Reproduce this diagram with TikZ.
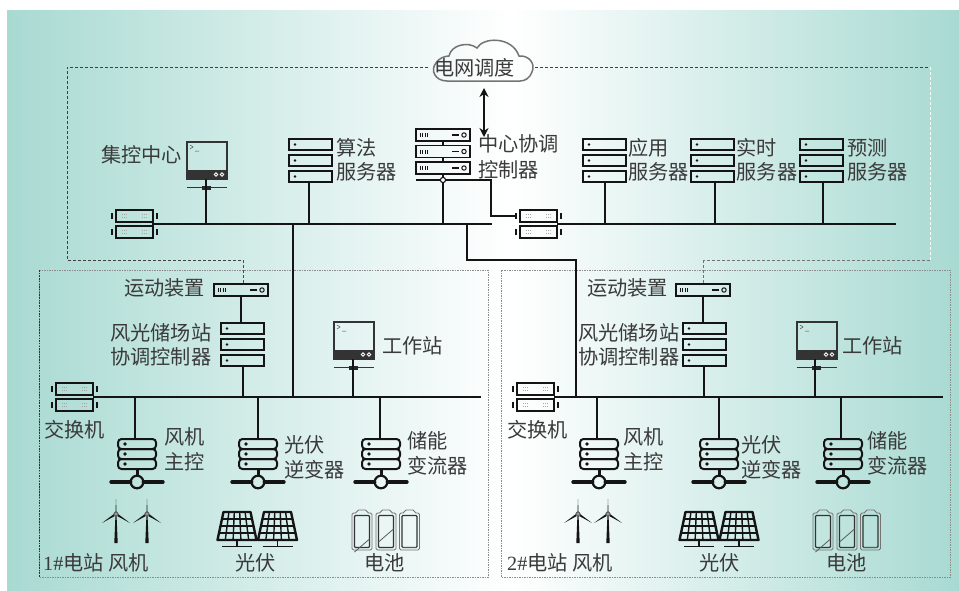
\documentclass[tikz,border=0pt]{standalone}
\usepackage{fontspec}
\setmainfont{Noto Sans CJK SC}
\newfontfamily\latf{Liberation Serif}
\usetikzlibrary{arrows.meta,calc}
\definecolor{bgteal}{HTML}{A8DAD2}
\definecolor{txtc}{HTML}{3A3A3A}
\definecolor{linec}{HTML}{141414}
\tikzset{
  x=1pt,y=-1pt,
  lbl/.style={anchor=west,inner sep=0pt,text=txtc,font=\fontsize{20.2}{24}\selectfont},
  hit/.style={inner sep=0pt,outer sep=0pt,anchor=north west,draw=none},
  boxln/.style={draw=linec,line width=1.8pt},
  conn/.style={draw=linec,line width=1.7pt},
  busln/.style={draw=linec,line width=1.9pt},
  dashtop/.style={draw=black!75,line width=.6pt,dash pattern=on 3pt off 2pt},
  dashwhite/.style={draw=white,line width=.8pt,dash pattern=on 3pt off 2pt},
  dotgray/.style={draw=black!45,line width=.7pt,dash pattern=on 1.5pt off 1pt},
  dotdark/.style={draw=black!80,line width=.7pt,dash pattern=on 1.5pt off 1.2pt},
}
% three plain server boxes
\newcommand\srvstack[3]{%
  \node[hit,minimum width=43pt,minimum height=43pt] (#1) at (#2,#3) {};
  \begin{scope}[shift={(#2,#3)}]
    \foreach \yy in {0,16,32}{
      \draw[boxln] (0,\yy) rectangle (43,\yy+11);
      \fill[linec] (6,\yy+5.5) circle (1.4);
    }
  \end{scope}}
% one rack unit
\newcommand\rackunit[3]{%
  \node[hit,minimum width=54pt,minimum height=12pt] (#1) at (#2,#3) {};
  \begin{scope}[shift={(#2,#3)}]
    \draw[boxln,line width=1.4pt] (0,0) rectangle (54,12);
    \foreach \xx in {4,6.6,9.2,11.8}{\draw[linec,line width=.8pt] (\xx,4) -- (\xx,8);}
    \draw[linec,line width=1.3pt] (36,6) -- (43,6);
    \draw[linec,line width=1pt] (48,6) circle (2.2);
  \end{scope}}
% dual switch
\newcommand\dualswitch[3]{%
  \node[hit,minimum width=37pt,minimum height=28pt] (#1) at (#2,#3) {};
  \begin{scope}[shift={(#2,#3)}]
    \foreach \yy in {0,16}{
      \draw[boxln,line width=1.4pt] (0,\yy) rectangle (37,\yy+12);
      \foreach \xx in {6,26}{
        \draw[black!35,line width=.8pt,dash pattern=on 1pt off 1pt] (\xx,\yy+4.5) -- +(6,0);
        \draw[black!35,line width=.8pt,dash pattern=on 1pt off 1pt] (\xx,\yy+7.5) -- +(6,0);
      }
      \draw[linec,line width=1.2pt] (-4,\yy+3) -- (-4,\yy+9);
      \draw[linec,line width=1.2pt] (41,\yy+3) -- (41,\yy+9);
    }
  \end{scope}}
% terminal
\newcommand\termicon[3]{%
  \node[hit,minimum width=40pt,minimum height=37pt] (#1) at (#2,#3) {};
  \begin{scope}[shift={(#2,#3)}]
    \draw[draw=black!80,line width=1.2pt] (0,0) rectangle (40,37);
    \fill[black!80] (0,28) rectangle (40,37);
    \draw[white,line width=.8pt] (29,32.5) circle (1.8) (35,32.5) circle (1.8);
    \draw[black!70,line width=.5pt] (3,3) -- (6,5) -- (3,7) (8,9) -- (12,9);
    \draw[black!80,line width=1.3pt] (0,45.5) -- (40,45.5);
    \fill[black!85] (15,43.5) rectangle (24,47.5);
  \end{scope}}
% rounded stack on network port
\newcommand\porticon[3]{%
  \node[hit,minimum width=38pt,minimum height=30pt] (#1) at (#2,#3) {};
  \begin{scope}[shift={(#2,#3)}]
    \foreach \yy in {0,10,20}{
      \draw[boxln,rounded corners=3.5pt,line width=2pt] (0,\yy) rectangle (38,\yy+10);
      \fill[linec] (7,\yy+5) circle (1.8);
    }
    \draw[linec,line width=3pt] (19,30) -- (19,37);
    \draw[linec,line width=2.2pt] (19,43) circle (6.3);
    \draw[linec,line width=3.4pt,line cap=round] (-7,43) -- (12.7,43) (25.3,43) -- (45,43);
  \end{scope}}
\newcommand\turbine[2]{%
  \begin{scope}[shift={(#1,#2)}]
    \fill[linec] (-1.7,29) -- (1.7,29) -- (.5,0) -- (-.5,0) -- cycle;
    \fill[linec] (-.6,0) -- (.6,0) -- (0,-15) -- cycle;
    \fill[linec] (-1,-.8) -- (1,.8) -- (-14,9) -- cycle;
    \fill[linec] (-1,.8) -- (1,-.8) -- (14,9) -- cycle;
    \fill[black!60] (0,0) circle (2.6);
    \fill[black!20] (0,0) circle (.8);
  \end{scope}}
\newcommand\solar[2]{%
  \begin{scope}[shift={(#1,#2)}]
    \foreach \j in {1,2,3,4}{\draw[linec,line width=1.4pt] ({-13.5+27*\j/5},0) -- ({-19.5+39*\j/5},28);}
    \foreach \i in {1,2,3}{\draw[linec,line width=1.4pt] ({-13.5-6*\i/4},{7*\i}) -- ({13.5+6*\i/4},{7*\i});}
    \draw[linec,line width=2.4pt,line join=round] (-13.5,0) -- (13.5,0) -- (19.5,28) -- (-19.5,28) -- cycle;
    \draw[linec,line width=1.8pt] (0,28) -- (0,34.5) (-15,34.5) -- (15,34.5);
  \end{scope}}
\newcommand\battery[4]{%
  \begin{scope}[shift={(#1,#2)}]
    \draw[black!55,line width=.9pt,rounded corners=1.5pt] (0,3) -- (5,3) -- (5,0) -- (15,0) -- (15,3) -- (20,3) -- (20,40) -- (0,40) -- cycle;
    \draw[black!80,line width=1.1pt,rounded corners=1pt] (2.5,5.5) rectangle (17.5,37.5);
    \draw[black!65,line width=.8pt] (2.5,#3) -- (17.5,#4);
  \end{scope}}
\begin{document}
\begin{tikzpicture}
\useasboundingbox (0,0) rectangle (959,590);
% background
\shade[left color=bgteal,right color=white,draw=none] (7,10) rectangle (510,590);
\shade[left color=white,right color=bgteal,draw=none] (510,10) rectangle (959,590);
% region outlines
\coordinate (topA) at (67,67);
\coordinate (topB) at (428,67);
\coordinate (topC) at (535,67);
\coordinate (topD) at (930,67);
\coordinate (topE) at (930,260);
\coordinate (topF) at (703,260);
\coordinate (topG) at (243,260);
\coordinate (topH) at (67,260);
\draw[dashtop] (topB) -- (topA) -- (topH) -- (topG);
\draw[dashtop] (topC) -- (topD);
\draw[dashwhite] (topD) -- (topE);
\draw[dashtop,draw=black!55] (topE) -- (topF);
\draw[dotgray] (39,270) rectangle (488,577);
\draw[dotdark] (39,270) -- (39,577);
\draw[dotgray] (501,270) rectangle (950,577);
% cloud
\node[hit,minimum width=100pt,minimum height=41pt] (cloud) at (433,40) {};
\draw[draw=black!55,line width=1.5pt] (447,81) .. controls (435,81) and (430,70) .. (436,63)
  .. controls (439,58) and (445,56) .. (449,56) .. controls (451,45) and (468,41) .. (477,48)
  .. controls (483,37) and (512,36) .. (519,56) .. controls (528,55) and (536,63) .. (532,72)
  .. controls (530,78) and (525,81) .. (520,81) -- cycle;
\node[lbl] (tcloud) at (434,68) {电网调度};
% upper level
\coordinate (busAL) at (152,224);
\coordinate (busAR) at (492,224);
\coordinate (busBL) at (557,224);
\coordinate (busBR) at (896,224);
\dualswitch{swA}{116}{210}
\dualswitch{swB}{520}{210}
\termicon{termC}{187}{142}
\srvstack{srvAlg}{289}{139}
\srvstack{srvApp}{583}{139}
\srvstack{srvRt}{691}{139}
\srvstack{srvFc}{800}{139}
\rackunit{ctrlA}{416}{129}
\rackunit{ctrlB}{416}{145.5}
\rackunit{ctrlC}{416}{162}
\draw[conn,line width=1.2pt] (ctrlA.south) -- (ctrlB.north) (ctrlB.south) -- (ctrlC.north);
\coordinate (ctrlL) at (416,180);
\coordinate (ctrlP) at (443,180);
\coordinate (ctrlK) at (491,180);
\coordinate (ctrlJ) at (491,216);
\coordinate (swBtick) at (516,216);
\draw[conn,line width=1.4pt] (ctrlL) -- (ctrlK) -- (ctrlJ) -- (swBtick);
\draw[conn,line width=1.2pt] (ctrlC.south) -- (ctrlP);
\draw[conn] (ctrlP) -- (ctrlP |- busAL);
\draw[draw=linec,fill=white,line width=1.1pt] (ctrlP) circle (2.6);
\draw[busln] (busAL) -- (busAR);
\draw[busln] (busBL) -- (busBR);
\draw[conn] ([xshift=-1pt]termC.south) -- ([xshift=-1pt]termC.south |- busAL);
\draw[conn] ([xshift=-1.5pt]srvAlg.south) -- ([xshift=-1.5pt]srvAlg.south |- busAL);
\draw[conn] ([xshift=.5pt]srvApp.south) -- ([xshift=.5pt]srvApp.south |- busBL);
\draw[conn] ([xshift=2.5pt]srvRt.south) -- ([xshift=2.5pt]srvRt.south |- busBL);
\draw[conn] ([xshift=1.5pt]srvFc.south) -- ([xshift=1.5pt]srvFc.south |- busBL);
\coordinate (arrT) at (484,88);
\coordinate (arrB) at (484,137);
\draw[linec,line width=2.4pt,{Stealth[length=9pt,width=9pt]}-{Stealth[length=9pt,width=9pt]}] (arrT) -- (arrB);
\node[lbl] (tJk) at (101,155) {集控中心};
\node[lbl] (tSf1) at (336,148) {算法};
\node[lbl] (tSf2) at (336,172) {服务器};
\node[lbl] (tZx1) at (478,144) {中心协调};
\node[lbl] (tZx2) at (478,170) {控制器};
\node[lbl] (tYy1) at (628,148) {应用};
\node[lbl] (tYy2) at (628,172) {服务器};
\node[lbl] (tSs1) at (736.5,148) {实时};
\node[lbl] (tSs2) at (736.5,172) {服务器};
\node[lbl] (tYc1) at (847,148) {预测};
\node[lbl] (tYc2) at (847,172) {服务器};
% ---- station 1
\coordinate (bus1L) at (93,397);
\coordinate (bus1R) at (481,397);
\dualswitch{sw1}{56}{383}
\rackunit{rtu1}{214}{284}
\srvstack{co1}{221}{323}
\termicon{term1}{334}{322}
\porticon{pA1}{118}{439}
\porticon{pB1}{239}{439}
\porticon{pC1}{362}{439}
\draw[busln] (bus1L) -- (bus1R);
\draw[conn] (rtu1.south) -- (rtu1.south |- co1.north);
\draw[conn] ([xshift=.5pt]co1.south) -- ([xshift=.5pt]co1.south |- bus1L);
\draw[conn] ([xshift=-1pt]term1.south) -- ([xshift=-1pt]term1.south |- bus1L);
\draw[conn] ([xshift=-2pt]pA1.north) -- ([xshift=-2pt]pA1.north |- bus1L);
\draw[conn] (pB1.north) -- (pB1.north |- bus1L);
\draw[conn] ([xshift=-1pt]pC1.north) -- ([xshift=-1pt]pC1.north |- bus1L);
\coordinate (link1T) at (293,224);
\draw[conn] (link1T) -- (link1T |- bus1L);
\draw[dashtop,draw=black!70] (topG) -- (topG |- rtu1.north);
\turbine{116}{514}
\turbine{147}{514}
\solar{237}{512}
\solar{277.5}{512}
\battery{352}{510}{42}{29}
\battery{376}{510}{32}{19}
\battery{399.5}{510}{37.5}{37.5}
\node[lbl] (tRtu1) at (124,288) {运动装置};
\node[lbl] (tCo11) at (110,333) {风光储场站};
\node[lbl] (tCo12) at (110,357) {协调控制器};
\node[lbl] (tGz1) at (382,346) {工作站};
\node[lbl] (tSw1) at (44,430) {交换机};
\node[lbl] (tFj11) at (164,437) {风机};
\node[lbl] (tFj12) at (164,462) {主控};
\node[lbl] (tGf11) at (284,445) {光伏};
\node[lbl] (tGf12) at (284,470) {逆变器};
\node[lbl] (tCn11) at (407,441) {储能};
\node[lbl] (tCn12) at (407,466) {变流器};
\node[lbl] (tSt1) at (43,563) {{\latf 1\#}电站 风机};
\node[lbl] (tPv1) at (235,563) {光伏};
\node[lbl] (tBt1) at (364,563) {电池};
% ---- station 2
\coordinate (bus2L) at (554,397);
\coordinate (bus2R) at (943,397);
\dualswitch{sw2}{517}{383}
\rackunit{rtu2}{676}{284}
\srvstack{co2}{683}{323}
\termicon{term2}{797}{322}
\porticon{pA2}{580}{439}
\porticon{pB2}{700}{439}
\porticon{pC2}{824}{439}
\draw[busln] (bus2L) -- (bus2R);
\draw[conn] (rtu2.south) -- (rtu2.south |- co2.north);
\draw[conn] ([xshift=-.5pt]co2.south) -- ([xshift=-.5pt]co2.south |- bus2L);
\draw[conn] ([xshift=-2pt]term2.south) -- ([xshift=-2pt]term2.south |- bus2L);
\draw[conn] ([xshift=-2pt]pA2.north) -- ([xshift=-2pt]pA2.north |- bus2L);
\draw[conn] (pB2.north) -- (pB2.north |- bus2L);
\draw[conn] ([xshift=-2pt]pC2.north) -- ([xshift=-2pt]pC2.north |- bus2L);
\coordinate (link2A) at (467,224);
\coordinate (link2B) at (467,260);
\coordinate (link2C) at (576,260);
\draw[conn] (link2A) -- (link2B) -- (link2C) -- (link2C |- bus2L);
\draw[dashtop,draw=black!55] (topF) -- (topF |- rtu2.north);
\turbine{578}{514}
\turbine{608}{514}
\solar{699}{512}
\solar{739}{512}
\battery{813}{510}{42}{29}
\battery{837}{510}{32}{19}
\battery{860.5}{510}{37.5}{37.5}
\node[lbl] (tRtu2) at (587,288) {运动装置};
\node[lbl] (tCo21) at (578,333) {风光储场站};
\node[lbl] (tCo22) at (578,357) {协调控制器};
\node[lbl] (tGz2) at (842,346) {工作站};
\node[lbl] (tSw2) at (507,430) {交换机};
\node[lbl] (tFj21) at (623,437) {风机};
\node[lbl] (tFj22) at (623,462) {主控};
\node[lbl] (tGf21) at (741,445) {光伏};
\node[lbl] (tGf22) at (741,470) {逆变器};
\node[lbl] (tCn21) at (867,441) {储能};
\node[lbl] (tCn22) at (867,466) {变流器};
\node[lbl] (tSt2) at (507,563) {{\latf 2\#}电站 风机};
\node[lbl] (tPv2) at (699,563) {光伏};
\node[lbl] (tBt2) at (826,563) {电池};
\end{tikzpicture}
\end{document}
